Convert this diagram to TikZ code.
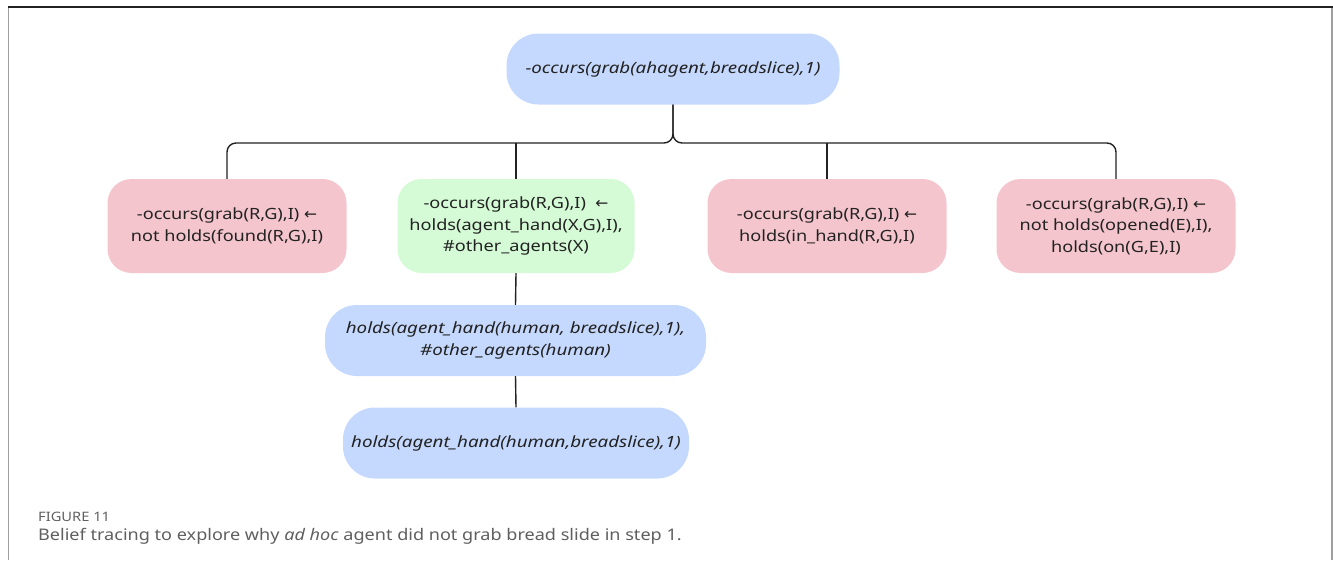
\documentclass[tikz,border=0pt]{standalone}
\usepackage{fontspec}
\setmainfont{Noto Sans}[FakeStretch=1.17]
\newfontfamily\pillfont{Noto Sans}[FakeStretch=1.21]
\newfontfamily\arrowfont{DejaVu Sans}
\newfontfamily\capfont{Noto Sans}[FakeStretch=1.13]
\definecolor{nodeblue}{RGB}{197,216,253}
\definecolor{nodepink}{RGB}{244,197,205}
\definecolor{nodegreen}{RGB}{213,251,214}
\definecolor{inkdark}{RGB}{34,34,34}
\definecolor{capgray}{RGB}{95,95,95}
\definecolor{framegray}{RGB}{160,160,160}
\newcommand{\larr}{{\arrowfont\char"2190}}
\begin{document}
\begin{tikzpicture}[x=1pt,y=-1pt,
  every node/.style={text=inkdark},
  rule/.style={fill=#1, draw=none, rounded corners=24pt, align=center,
    font=\fontsize{15.5}{21.5}\selectfont, inner sep=0pt},
  pill/.style={fill=nodeblue, draw=none, rounded corners=32pt, align=center,
    font=\pillfont\fontsize{15.5}{21.5}\selectfont\itshape, inner sep=0pt,
    minimum height=71pt},
  conn/.style={draw=inkdark, line width=1.4pt, rounded corners=9pt}]
\useasboundingbox (0,0) rectangle (1333,560);
% page frame
\draw[framegray, line width=1.5pt] (8.5,7) -- (8.5,560);
\draw[framegray, line width=1.5pt] (1332,7) -- (1332,560);
\draw[inkdark, line width=1.5pt] (8,7) -- (1333,7);

% goal
\node[pill, minimum width=333pt] (top) at (673,69) {-occurs(grab(ahagent,breadslice),1)};

% candidate rules
\node[rule=nodepink, minimum width=239pt, minimum height=94pt] (r1) at (227,226)
  {-occurs(grab(R,G),I) \larr\\not holds(found(R,G),I)};
\node[rule=nodegreen, minimum width=237pt, minimum height=94pt] (r2) at (516,226)
  {-occurs(grab(R,G),I) \ \larr\\holds(agent\_hand(X,G),I),\\\#other\_agents(X)};
\node[rule=nodepink, minimum width=239pt, minimum height=94pt] (r3) at (827,226)
  {-occurs(grab(R,G),I) \larr\\holds(in\_hand(R,G),I)};
\node[rule=nodepink, minimum width=239pt, minimum height=94pt] (r4) at (1116,226)
  {-occurs(grab(R,G),I) \larr\\not holds(opened(E),I),\\holds(on(G,E),I)};

% supporting facts
\node[pill, minimum width=381pt] (f1) at (515.5,340.5)
  {holds(agent\_hand(human, breadslice),1),\\\#other\_agents(human)};
\node[pill, minimum width=346pt] (f2) at (516,443)
  {holds(agent\_hand(human,breadslice),1)};

% connectors
\coordinate (j) at (top.south |- 0,143);
\draw[conn] (r1.north) -- (r1.north |- j) -- (j) -- (top.south);
\draw[conn] (r4.north) -- (r4.north |- j) -- (j) -- (top.south);
\draw[conn] (r2.north) -- (r2.north |- j);
\draw[conn] (r3.north) -- (r3.north |- j);
\draw[conn] (r2.south) -- (f1.north);
\draw[conn] (f1.south) -- (f2.north);

% caption
\node[anchor=base west, inner sep=0pt, text=capgray, font=\capfont\fontsize{13}{14}\selectfont] (capt) at (38,521) {FIGURE 11};
\node[anchor=base west, inner sep=0pt, text=capgray, font=\capfont\fontsize{16}{18}\selectfont] (capb) at (38,540)
  {Belief tracing to explore why \textit{ad hoc} agent did not grab bread slide in step 1.};
\end{tikzpicture}
\end{document}
